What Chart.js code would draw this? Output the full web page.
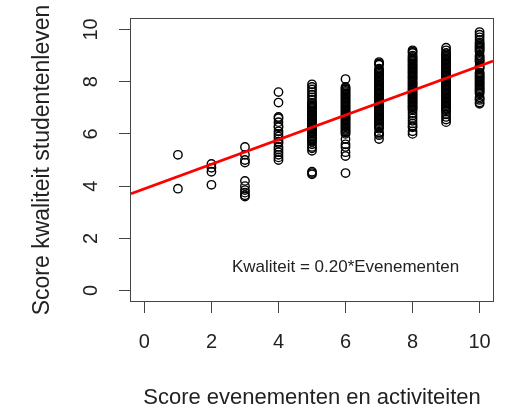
<!DOCTYPE html>
<html>
<head>
<meta charset="utf-8">
<title>Kwaliteit studentenleven</title>
<script src="https://cdn.jsdelivr.net/npm/chart.js@4.4.1/dist/chart.umd.min.js"></script>
<style>
  html, body { margin: 0; padding: 0; background: #fff; }
  #wrap { width: 506px; height: 411px; }
</style>
</head>
<body>
<div id="wrap"><canvas id="scatterChart" width="506" height="411"></canvas></div>
<script>
// Score evenementen (x) per groep en de bijbehorende scores kwaliteit (y)
const evenementen = [1, 2, 3, 4, 5, 6, 7, 8, 9, 10];

const kwal1 = [5.2, 3.9];
const kwal2 = [4.85, 4.7, 4.55, 4.05];
const kwal3 = [5.5, 5.2, 5.0, 4.9, 4.2, 4.0, 3.85, 3.75, 3.65, 3.6];
const kwal4 = [7.6, 7.2, 6.65, 6.6, 6.45, 6.3, 6.25, 6.1, 6.0, 5.9, 5.8, 5.7, 5.65, 5.5, 5.4, 5.3, 5.2, 5.1, 5.0];
const kwal5 = [7.9, 7.8, 7.7, 7.6, 7.5, 7.4, 7.3, 7.2, 7.15, 7.1, 7.05, 7.0, 6.95, 6.9, 6.85, 6.8, 6.75, 6.7,
    6.65, 6.6, 6.55, 6.5, 6.45, 6.4, 6.35, 6.3, 6.25, 6.2, 6.15, 6.1, 6.05, 6.0, 5.95, 5.9, 5.85, 5.8,
    5.75, 5.7, 5.6, 5.5, 5.45, 5.35, 4.55, 4.5, 4.45];
const kwal6 = [8.1, 7.8, 7.75, 7.7, 7.65, 7.6, 7.55, 7.5, 7.45, 7.4, 7.35, 7.3, 7.25, 7.2, 7.15, 7.1, 7.05,
    7.0, 6.95, 6.9, 6.85, 6.8, 6.75, 6.7, 6.65, 6.6, 6.55, 6.5, 6.45, 6.4, 6.35, 6.3, 6.25, 6.2, 6.15,
    6.1, 6.05, 6.0, 5.8, 5.6, 5.5, 5.3, 5.15, 4.5];
const kwal7 = [8.75, 8.7, 8.65, 8.5, 8.45, 8.4, 8.35, 8.3, 8.25, 8.2, 8.15, 8.1, 8.05, 8.0, 7.95, 7.9, 7.85,
    7.8, 7.75, 7.7, 7.65, 7.6, 7.55, 7.5, 7.45, 7.4, 7.35, 7.3, 7.25, 7.2, 7.15, 7.1, 7.05, 7.0, 6.95,
    6.9, 6.85, 6.8, 6.75, 6.7, 6.65, 6.6, 6.55, 6.5, 6.45, 6.4, 6.35, 6.3, 6.25, 6.2, 6.05, 6.0, 5.95, 5.8];
const kwal8 = [9.2, 9.15, 9.1, 9.0, 8.95, 8.9, 8.85, 8.8, 8.75, 8.7, 8.65, 8.6, 8.55, 8.5, 8.45, 8.4, 8.35,
    8.3, 8.25, 8.2, 8.15, 8.1, 8.05, 8.0, 7.95, 7.9, 7.85, 7.8, 7.75, 7.7, 7.65, 7.6, 7.55, 7.5, 7.45,
    7.4, 7.35, 7.3, 7.25, 7.2, 7.15, 7.1, 7.05, 7.0, 6.95, 6.9, 6.8, 6.7, 6.6, 6.5, 6.4, 6.3, 6.25, 6.1, 6.0];
const kwal9 = [9.3, 9.2, 9.1, 9.05, 9.0, 8.95, 8.9, 8.85, 8.8, 8.75, 8.7, 8.65, 8.6, 8.55, 8.5, 8.45, 8.4,
    8.35, 8.3, 8.25, 8.2, 8.15, 8.1, 8.05, 8.0, 7.95, 7.9, 7.85, 7.8, 7.75, 7.7, 7.65, 7.6, 7.55, 7.5,
    7.45, 7.4, 7.35, 7.3, 7.25, 7.2, 7.15, 7.1, 7.05, 7.0, 6.95, 6.9, 6.85, 6.75, 6.65, 6.55, 6.45];
const kwal10 = [9.9, 9.8, 9.7, 9.6, 9.5, 9.45, 9.4, 9.35, 9.3, 9.25, 9.2, 9.15, 9.0, 8.95, 8.9, 8.85, 8.8,
    8.75, 8.6, 8.55, 8.5, 8.35, 8.3, 8.25, 8.2, 8.15, 8.1, 8.05, 8.0, 7.95, 7.9, 7.85, 7.8, 7.75, 7.7,
    7.65, 7.6, 7.55, 7.4, 7.35, 7.3, 7.2, 7.15];

const kwaliteit = [kwal1, kwal2, kwal3, kwal4, kwal5, kwal6, kwal7, kwal8, kwal9, kwal10];

// regressielijn (eindpunten op de randen van het plotgebied)
const lijnX = [-0.4, 10.4];
const lijnY = [3.71, 8.79];

const xTicks = [0, 2, 4, 6, 8, 10];
const yTicks = [0, 2, 4, 6, 8, 10];

const notitie = "Kwaliteit = 0.20*Evenementen";
const notitieX = 6;
const notitieY = 0.9;

const fontFamily = "'Liberation Sans', Arial, sans-serif";

// build scatter points
const punten = [];
evenementen.forEach((ev, i) => {
    kwaliteit[i].forEach((k) => punten.push({ x: ev, y: k }));
});

const lijnPunten = lijnX.map((x, i) => ({ x: x, y: lijnY[i] }));

// box round the plot area + annotation text
const boxPlugin = {
    id: "boxPlugin",
    afterDatasetsDraw(chart) {
        const { ctx, chartArea } = chart;
        ctx.save();
        ctx.font = "17px " + fontFamily;
        ctx.fillStyle = "#222";
        ctx.textAlign = "center";
        ctx.textBaseline = "middle";
        ctx.fillText(notitie, chart.scales.x.getPixelForValue(notitieX), chart.scales.y.getPixelForValue(notitieY));
        ctx.strokeStyle = "#444";
        ctx.lineWidth = 1;
        ctx.strokeRect(
            Math.round(chartArea.left) - 0.5,
            Math.round(chartArea.top) - 0.5,
            Math.round(chartArea.right - chartArea.left) + 1,
            Math.round(chartArea.bottom - chartArea.top) + 1
        );
        ctx.restore();
    },
};

const ctx = document.getElementById("scatterChart").getContext("2d");

new Chart(ctx, {
    type: "scatter",
    data: {
        datasets: [
            {
                type: "line",
                data: lijnPunten,
                borderColor: "#ff0000",
                borderWidth: 2.6,
                pointRadius: 0,
                fill: false,
                order: 0,
            },
            {
                data: punten,
                pointRadius: 4.2,
                pointBorderWidth: 1.4,
                borderColor: "#000",
                backgroundColor: "rgba(0,0,0,0)",
                order: 1,
            },
        ],
    },
    options: {
        responsive: false,
        animation: false,
        events: [],
        layout: {
            padding: { left: 0, top: 19, right: 13, bottom: 0 },
        },
        plugins: {
            legend: { display: false },
            tooltip: { enabled: false },
        },
        scales: {
            x: {
                type: "linear",
                min: -0.4,
                max: 10.4,
                afterBuildTicks: (scale) => {
                    scale.ticks = xTicks.map((v) => ({ value: v }));
                },
                afterFit: (scale) => {
                    scale.height = 110;
                    scale.paddingLeft = 0;
                    scale.paddingRight = 0;
                },
                grid: {
                    drawOnChartArea: false,
                    drawTicks: true,
                    tickLength: 12,
                    color: "#444",
                },
                border: { display: false },
                ticks: {
                    padding: 17,
                    color: "#222",
                    font: { family: fontFamily, size: 20 },
                    maxRotation: 0,
                },
                title: {
                    display: true,
                    text: "Score evenementen en activiteiten",
                    color: "#222",
                    font: { family: fontFamily, size: 22 },
                    padding: { top: 0, bottom: 0 },
                },
            },
            y: {
                type: "linear",
                min: -0.4,
                max: 10.4,
                afterBuildTicks: (scale) => {
                    scale.ticks = yTicks.map((v) => ({ value: v }));
                },
                afterFit: (scale) => {
                    scale.width = 131;
                    scale.paddingTop = 0;
                    scale.paddingBottom = 0;
                },
                grid: {
                    drawOnChartArea: false,
                    drawTicks: true,
                    tickLength: 12,
                    color: "#444",
                },
                border: { display: false },
                ticks: {
                    padding: 16,
                    color: "#222",
                    crossAlign: "center",
                    minRotation: 90,
                    maxRotation: 90,
                    font: { family: fontFamily, size: 20 },
                },
                title: {
                    display: true,
                    text: "Score kwaliteit studentenleven",
                    color: "#222",
                    font: { family: fontFamily, size: 23 },
                    padding: { top: 29, bottom: 0 },
                },
            },
        },
    },
    plugins: [boxPlugin],
});
</script>
</body>
</html>
